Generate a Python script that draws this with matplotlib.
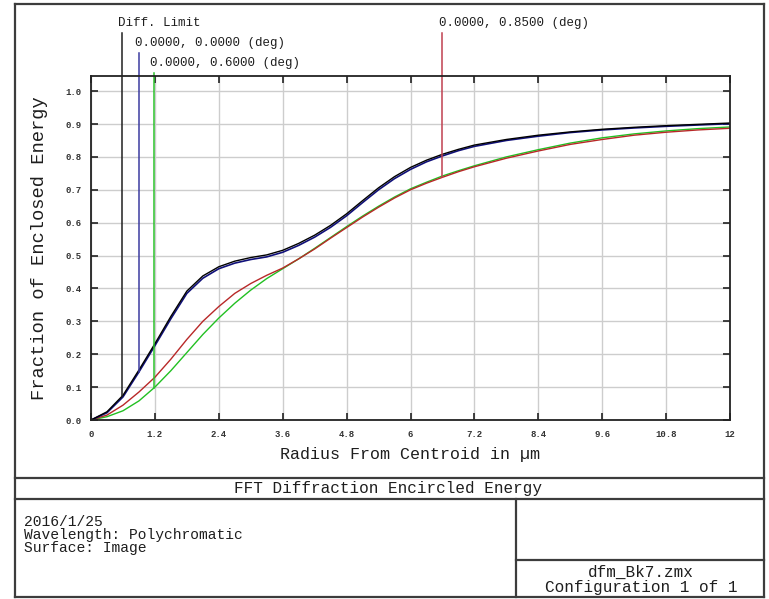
import matplotlib
matplotlib.use("Agg")
import matplotlib.pyplot as plt
import numpy as np
from matplotlib.lines import Line2D

# encircled energy plot, zemax style

W, H = 769, 599

radius = [0, 0.3, 0.6, 0.9, 1.2, 1.5, 1.8, 2.1, 2.4, 2.7, 3.0, 3.3, 3.6, 3.9,
          4.2, 4.5, 4.8, 5.1, 5.4, 5.7, 6.0, 6.3, 6.6, 6.9, 7.2, 7.8, 8.4,
          9.0, 9.6, 10.2, 10.8, 11.4, 12.0]

diff_limit = [0, 0.025, 0.075, 0.152, 0.232, 0.315, 0.392, 0.438, 0.466, 0.483,
              0.494, 0.502, 0.516, 0.537, 0.562, 0.592, 0.627, 0.667, 0.706,
              0.74, 0.768, 0.79, 0.808, 0.823, 0.836, 0.853, 0.866, 0.876,
              0.884, 0.89, 0.895, 0.899, 0.903]

field_000 = [0, 0.022, 0.07, 0.146, 0.226, 0.308, 0.385, 0.431, 0.46, 0.477,
             0.488, 0.496, 0.51, 0.531, 0.556, 0.586, 0.621, 0.661, 0.7,
             0.734, 0.762, 0.785, 0.803, 0.819, 0.832, 0.85, 0.863, 0.874,
             0.882, 0.888, 0.893, 0.897, 0.901]

field_060 = [0, 0.01, 0.028, 0.058, 0.1, 0.15, 0.205, 0.26, 0.31, 0.355,
             0.395, 0.43, 0.46, 0.49, 0.522, 0.555, 0.588, 0.62, 0.65, 0.678,
             0.703, 0.723, 0.742, 0.758, 0.773, 0.8, 0.822, 0.842, 0.858,
             0.87, 0.879, 0.886, 0.891]

field_085 = [0, 0.015, 0.045, 0.085, 0.13, 0.185, 0.245, 0.3, 0.345, 0.385,
             0.415, 0.44, 0.462, 0.49, 0.52, 0.553, 0.585, 0.617, 0.647,
             0.675, 0.7, 0.72, 0.738, 0.755, 0.77, 0.796, 0.818, 0.838, 0.853,
             0.866, 0.875, 0.882, 0.887]

labels = ["Diff. Limit", "0.0000, 0.0000 (deg)", "0.0000, 0.6000 (deg)",
          "0.0000, 0.8500 (deg)"]
label_radius = [0.58, 0.9, 1.18, 6.6]

xticks = [0, 1.2, 2.4, 3.6, 4.8, 6, 7.2, 8.4, 9.6, 10.8, 12]
xtick_labels = ["0", "1.2", "2.4", "3.6", "4.8", "6", "7.2", "8.4", "9.6",
                "10.8", "12"]
yticks = [0.0, 0.1, 0.2, 0.3, 0.4, 0.5, 0.6, 0.7, 0.8, 0.9, 1.0]

info_lines = ["2016/1/25", "Wavelength: Polychromatic", "Surface: Image"]
file_lines = ["dfm_Bk7.zmx", "Configuration 1 of 1"]

plt.rcParams["font.family"] = ["Liberation Mono", "DejaVu Sans Mono"]
txt = "#1e1e1e"
frame = "#3c3c3c"


def fx(px):
    return px / W


def fy(py):
    return 1 - py / H


fig = plt.figure(figsize=(W / 100, H / 100), dpi=100)
fig.patch.set_facecolor("white")

ax = fig.add_axes([fx(91), fy(420), fx(730) - fx(91), fy(76) - fy(420)])

series = [diff_limit, field_000, field_060, field_085]
colors = ["#000000", "#10107a", "#22c022", "#b82828"]
line_colors = ["#202020", "#3c3ca0", "#2cc22c", "#c04050"]

# curves
ax.plot(radius, field_060, color=colors[2], linewidth=1.0)
ax.plot(radius, field_085, color=colors[3], linewidth=1.0)
ax.plot(radius, field_000, color=colors[1], linewidth=1.2)
ax.plot(radius, diff_limit, color=colors[0], linewidth=1.0)

ax.set_xlim(0, 12)
ax.set_ylim(0, 1.046)

# pointer lines + labels above the plot
y_per_px = 1 / 329.0
tops_px = [33, 53, 73, 33]
text_px = [(118, 23), (135, 43), (150, 63), (439, 23)]
for i in range(4):
    r = label_radius[i]
    v = np.interp(r, radius, series[i])
    ax.plot([r, r], [v, (420 - tops_px[i]) * y_per_px], color=line_colors[i],
            linewidth=1.1, clip_on=False)
    fig.text(fx(text_px[i][0]), fy(text_px[i][1]), labels[i], fontsize=9,
             color=txt, ha="left", va="center")

ax.set_xticks(xticks)
ax.set_xticklabels(xtick_labels)
ax.set_yticks(yticks)
ax.set_yticklabels([f"{t:.1f}" for t in yticks])
ax.tick_params(direction="in", length=5, width=1.2, color="#222222",
               top=True, right=True, labelsize=6.5, labelcolor="#333333",
               pad=7)
for lab in ax.get_xticklabels() + ax.get_yticklabels():
    lab.set_fontweight("bold")

ax.grid(True, color="#cdcdcd", linewidth=1.0)
for s in ax.spines.values():
    s.set_color("#222222")
    s.set_linewidth(1.3)

fig.text(fx(410), fy(454), "Radius From Centroid in µm", fontsize=12,
         color=txt, ha="center", va="center")
fig.text(fx(40), fy(248), "Fraction of Enclosed Energy", fontsize=13.5,
         color=txt, ha="center", va="center", rotation=90)

# outer frame and the info table
def hline(y, x0, x1):
    fig.add_artist(Line2D([fx(x0), fx(x1)], [fy(y), fy(y)], color=frame,
                          linewidth=1.6))


def vline(x, y0, y1):
    fig.add_artist(Line2D([fx(x), fx(x)], [fy(y0), fy(y1)], color=frame,
                          linewidth=1.6))


hline(4, 15, 764)
hline(597, 15, 764)
vline(15, 4, 597)
vline(764, 4, 597)
hline(478, 15, 764)
hline(499, 15, 764)
vline(516, 499, 597)
hline(560, 516, 764)

fig.text(fx(388), fy(489), "FFT Diffraction Encircled Energy", fontsize=11.5,
         color=txt, ha="center", va="center")

fig.text(fx(24), fy(535), "\n".join(info_lines), fontsize=10.5, color=txt,
         ha="left", va="center", linespacing=0.92)

fig.text(fx(641), fy(580), "\n".join(file_lines), fontsize=11.5, color=txt,
         ha="center", va="center", multialignment="center", linespacing=0.95)

fig.savefig("out.png", dpi=100, facecolor="white")
